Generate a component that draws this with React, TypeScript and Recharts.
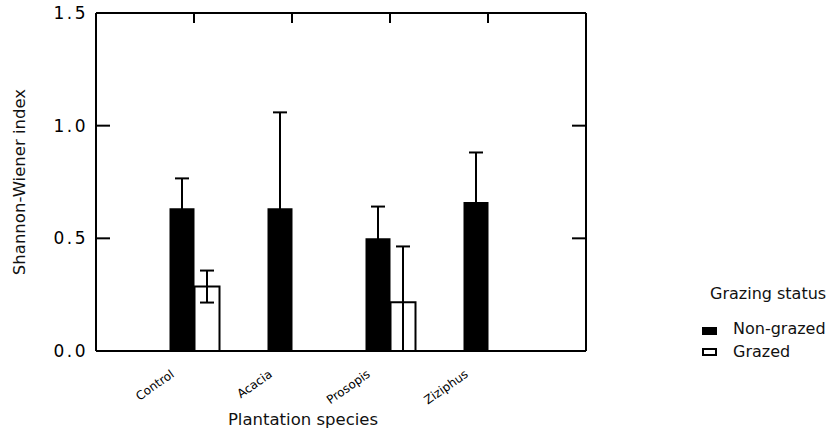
import React from "react";
import { ComposedChart, Bar, Line, XAxis, YAxis, ErrorBar, Legend, Label, ReferenceLine } from "recharts";

const species = ["Control", "Acacia", "Prosopis", "Ziziphus"];
const nonGrazed = [0.634, 0.634, 0.5, 0.661];
const nonGrazedSe = [0.132, 0.425, 0.141, 0.22];
const grazed = [0.286, null, 0.216, null];
const grazedSe = [0.071, null, 0.248, null];
const yTicks = [0, 0.5, 1.0, 1.5];
const innerYTicks = [0.5, 1.0];
const legendOrder = ["Non-grazed", "Grazed"];

const FONT = "'DejaVu Sans', Verdana, sans-serif";

const data = species.map((s, i) => {
  const g = grazed[i];
  const ge = grazedSe[i];
  return {
    species: s,
    nonGrazed: nonGrazed[i],
    nonGrazedErr: [nonGrazedSe[i], nonGrazedSe[i]],
    grazed: g,
    // lower whisker stops at the axis
    grazedErr: g == null || ge == null ? null : [Math.min(ge, g), ge],
  };
});

const SpeciesTick = ({ x, y, payload }: any) => {
  const ax = x - 19;
  const ay = y + 25;
  return (
    <text
      x={ax}
      y={ay}
      transform={`rotate(-35, ${ax}, ${ay})`}
      textAnchor="end"
      fontSize={12}
      fontFamily={FONT}
      fill="#000"
    >
      {payload.value}
    </text>
  );
};

const ValueTick = ({ x, y, payload }: any) => (
  <text
    x={x - 8}
    y={y}
    dy="0.36em"
    textAnchor="end"
    fontSize={17}
    letterSpacing={2.5}
    fontFamily={FONT}
    fill="#000"
  >
    {Number(payload.value).toFixed(1)}
  </text>
);

// short inward marks on both vertical sides of the frame
const SideTicks = (p: any) => {
  const l = Math.min(p.x1, p.x2);
  const r = Math.max(p.x1, p.x2);
  return (
    <g>
      <line x1={l} x2={l + 14} y1={p.y1} y2={p.y1} stroke="#000" strokeWidth={2} />
      <line x1={r - 14} x2={r} y1={p.y1} y2={p.y1} stroke="#000" strokeWidth={2} />
    </g>
  );
};

// short inward mark hanging from the top of the frame
const TopMark = (p: any) => {
  const t = Math.min(p.y1, p.y2);
  return <line x1={p.x1} x2={p.x1} y1={t} y2={t + 10} stroke="#000" strokeWidth={2} />;
};

const TopDot = ({ cx, cy, index }: any) => (
  <line key={`td${index}`} x1={cx} x2={cx} y1={cy} y2={cy + 10} stroke="#000" strokeWidth={2} />
);

const GrazingLegend = ({ payload }: any) => {
  const items = [...(payload || [])]
    .filter((e: any) => legendOrder.includes(e.value))
    .sort((a: any, b: any) => legendOrder.indexOf(a.value) - legendOrder.indexOf(b.value));
  return (
    <svg width={144} height={85} style={{ display: "block" }}>
      <text x={15} y={19} fontSize={16} fontFamily={FONT} fill="#111">
        Grazing status
      </text>
      {items.map((entry: any, i: number) => (
        <g key={entry.value}>
          <rect
            x={8}
            y={48 + i * 21}
            width={13}
            height={6}
            fill={entry.color}
            stroke="#000"
            strokeWidth={2}
          />
          <text x={38} y={54 + i * 23} fontSize={16} fontFamily={FONT} fill="#111">
            {entry.value}
          </text>
        </g>
      ))}
    </svg>
  );
};

export default function App() {
  return (
    <div style={{ width: 839, height: 437, background: "#fff", fontFamily: FONT }}>
      <style>{`body{margin:0}`}</style>
      <ComposedChart
        width={839}
        height={437}
        data={data}
        margin={{ top: 13, right: 253, left: 36, bottom: 56 }}
        barCategoryGap="25%"
        barGap={0}
      >
        <XAxis
          dataKey="species"
          interval={0}
          padding={{ left: 49, right: 49 }}
          height={30}
          tickLine={false}
          tickSize={0}
          tickMargin={0}
          tick={<SpeciesTick />}
          axisLine={{ stroke: "#000", strokeWidth: 2 }}
        >
          <Label
            content={() => (
              <text x={303} y={425} textAnchor="middle" fontSize={16.5} fontFamily={FONT} fill="#111">
                Plantation species
              </text>
            )}
          />
        </XAxis>
        <XAxis
          xAxisId="top"
          orientation="top"
          dataKey="species"
          padding={{ left: 49, right: 49 }}
          mirror
          height={20}
          tick={false}
          tickLine={false}
          axisLine={{ stroke: "#000", strokeWidth: 2 }}
        />
        <YAxis
          domain={[0, 1.5]}
          ticks={yTicks}
          width={60}
          tickLine={false}
          tickSize={0}
          tickMargin={0}
          tick={<ValueTick />}
          axisLine={{ stroke: "#000", strokeWidth: 2 }}
        >
          <Label
            content={() => (
              <text
                x={25}
                y={182}
                transform="rotate(-90, 25, 182)"
                textAnchor="middle"
                fontSize={16.5}
                fontFamily={FONT}
                fill="#111"
              >
                Shannon-Wiener index
              </text>
            )}
          />
        </YAxis>
        <YAxis
          yAxisId="right"
          orientation="right"
          domain={[0, 1.5]}
          ticks={yTicks}
          mirror
          width={20}
          tick={false}
          tickLine={false}
          axisLine={{ stroke: "#000", strokeWidth: 2 }}
        />
        {innerYTicks.map((v) => (
          <ReferenceLine key={`y${v}`} y={v} shape={SideTicks} />
        ))}
        {species.map((s) => (
          <ReferenceLine key={`x${s}`} x={s} shape={TopMark} />
        ))}
        <Legend
          layout="horizontal"
          verticalAlign="middle"
          align="center"
          content={<GrazingLegend />}
          wrapperStyle={{ position: "absolute", left: 695, top: 280, width: 144 }}
        />
        <Bar dataKey="nonGrazed" name="Non-grazed" fill="#000" isAnimationActive={false}>
          <ErrorBar dataKey="nonGrazedErr" width={7} stroke="#000" strokeWidth={2} />
        </Bar>
        <Bar
          dataKey="grazed"
          name="Grazed"
          fill="#fff"
          stroke="#000"
          strokeWidth={2}
          isAnimationActive={false}
        >
          <ErrorBar dataKey="grazedErr" width={7} stroke="#000" strokeWidth={2} />
        </Bar>
        {/* binds the top/right frame axes and marks each category on the top edge */}
        <Line
          xAxisId="top"
          yAxisId="right"
          dataKey={() => yTicks[yTicks.length - 1]}
          stroke="none"
          dot={TopDot}
          activeDot={false}
          legendType="none"
          isAnimationActive={false}
        />
      </ComposedChart>
    </div>
  );
}
